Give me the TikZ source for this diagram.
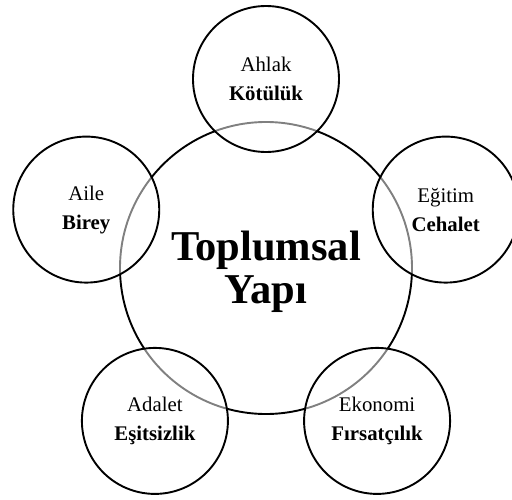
\documentclass[tikz,border=0pt]{standalone}
\usepackage{fontspec}
\setmainfont{Liberation Serif}
\usepackage{tikz}

\begin{document}
\begin{tikzpicture}[
	x=1pt, y=1pt,
	core/.style={circle, draw=black, line width=1.9pt, minimum size=292pt, inner sep=0pt},
	title/.style={align=center, font=\fontsize{42.5}{43}\selectfont\bfseries},
	factor/.style={circle, draw=black, line width=1.9pt, fill=white, fill opacity=0.5, text opacity=1,
		minimum size=146pt, align=center, inner sep=0pt, font=\fontsize{20.8}{29}\selectfont}
	]
	\useasboundingbox (-266,-231) rectangle (246,268);
	
	\node[core] (yapi) at (0,0) {};
	\node[title] (baslik) at ([yshift=-4pt]yapi.center) {Toplumsal\\Yapı};
	
	\node[factor] (ahlak) at (90:189) {Ahlak\\\textbf{Kötülük}};
	\node[factor] (aile) at (162:189) {Aile\\\textbf{Birey}};
	\node[factor] (egitim) at (18:189) {Eğitim\\\textbf{Cehalet}};
	\node[factor] (adalet) at (234:189) {Adalet\\\textbf{Eşitsizlik}};
	\node[factor] (ekonomi) at (306:189) {Ekonomi\\\textbf{Fırsatçılık}};
	
\end{tikzpicture}
\end{document}
